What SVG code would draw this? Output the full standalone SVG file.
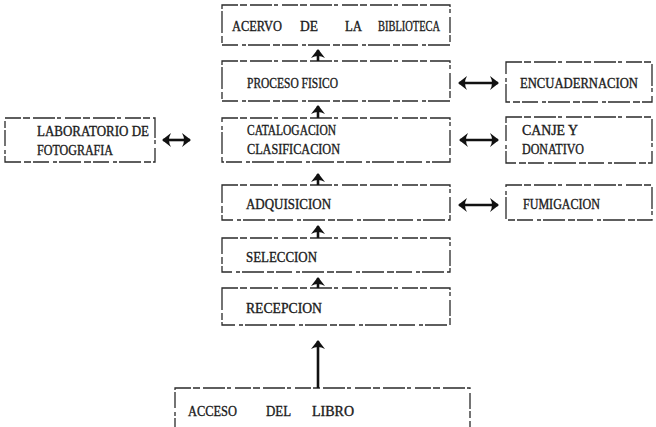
<svg xmlns="http://www.w3.org/2000/svg" width="656" height="427" viewBox="0 0 656 427">
<defs>
<marker id="ah" viewBox="0 0 9 14" refX="8" refY="7" markerWidth="9" markerHeight="14" orient="auto-start-reverse" markerUnits="userSpaceOnUse">
<path d="M0,0 Q4,7 0,14 L9,7 Z" fill="#111"/>
</marker>
<style>
.box{fill:none;stroke:#2a2a2a;stroke-width:1.3;stroke-dasharray:16 2 7 3 22 2 4 4}
.t{font-family:"Liberation Serif","DejaVu Serif",serif;font-size:14px;fill:#1a1a1a;stroke:#1a1a1a;stroke-width:0.35}
.c{fill:none;stroke:#111;stroke-width:2.6}
</style>
</defs>
<rect width="656" height="427" fill="#fff"/>
<g id="n-acervo"><rect class="box" x="222" y="5" width="228" height="40"/>
<text class="t" x="232" y="31" textLength="50" lengthAdjust="spacingAndGlyphs">ACERVO</text>
<text class="t" x="300" y="31" textLength="18" lengthAdjust="spacingAndGlyphs">DE</text>
<text class="t" x="345" y="31" textLength="17" lengthAdjust="spacingAndGlyphs">LA</text>
<text class="t" x="378" y="31" textLength="62" lengthAdjust="spacingAndGlyphs">BIBLIOTECA</text></g>
<g id="n-proceso"><rect class="box" x="222" y="61" width="228" height="40"/>
<text class="t" x="247" y="88" textLength="91" lengthAdjust="spacingAndGlyphs">PROCESO FISICO</text></g>
<g id="n-encuadernacion"><rect class="box" x="506" y="62" width="146" height="40"/>
<text class="t" x="520" y="88" textLength="118" lengthAdjust="spacingAndGlyphs">ENCUADERNACION</text></g>
<g id="n-laboratorio"><rect class="box" x="5" y="118" width="150" height="44"/>
<text class="t" x="37" y="136" textLength="112" lengthAdjust="spacingAndGlyphs">LABORATORIO DE</text>
<text class="t" x="37" y="155" textLength="76" lengthAdjust="spacingAndGlyphs">FOTOGRAFIA</text></g>
<g id="n-catalogacion"><rect class="box" x="222" y="118" width="228" height="44"/>
<text class="t" x="247" y="135" textLength="89" lengthAdjust="spacingAndGlyphs">CATALOGACION</text>
<text class="t" x="247" y="154" textLength="93" lengthAdjust="spacingAndGlyphs">CLASIFICACION</text></g>
<g id="n-canje"><rect class="box" x="506" y="117" width="146" height="46"/>
<text class="t" x="522" y="135" textLength="56" lengthAdjust="spacingAndGlyphs">CANJE Y</text>
<text class="t" x="522" y="154" textLength="62" lengthAdjust="spacingAndGlyphs">DONATIVO</text></g>
<g id="n-adquisicion"><rect class="box" x="222" y="185" width="228" height="35"/>
<text class="t" x="246" y="209" textLength="85" lengthAdjust="spacingAndGlyphs">ADQUISICION</text></g>
<g id="n-fumigacion"><rect class="box" x="506" y="185" width="146" height="35"/>
<text class="t" x="523" y="209" textLength="77" lengthAdjust="spacingAndGlyphs">FUMIGACION</text></g>
<g id="n-seleccion"><rect class="box" x="222" y="238" width="228" height="34"/>
<text class="t" x="246" y="262" textLength="71" lengthAdjust="spacingAndGlyphs">SELECCION</text></g>
<g id="n-recepcion"><rect class="box" x="222" y="288" width="228" height="37"/>
<text class="t" x="246" y="313" textLength="76" lengthAdjust="spacingAndGlyphs">RECEPCION</text></g>
<g id="n-acceso"><rect class="box" x="175" y="388" width="295" height="45"/>
<text class="t" x="188" y="416" textLength="49" lengthAdjust="spacingAndGlyphs">ACCESO</text>
<text class="t" x="266" y="416" textLength="25" lengthAdjust="spacingAndGlyphs">DEL</text>
<text class="t" x="312" y="416" textLength="42" lengthAdjust="spacingAndGlyphs">LIBRO</text></g>
<g id="connectors">
<line class="c" x1="318" y1="61" x2="318" y2="50" marker-end="url(#ah)"/>
<line class="c" x1="318" y1="118" x2="318" y2="106" marker-end="url(#ah)"/>
<line class="c" x1="318" y1="185" x2="318" y2="174" marker-end="url(#ah)"/>
<line class="c" x1="318" y1="238" x2="318" y2="226" marker-end="url(#ah)"/>
<line class="c" x1="318" y1="288" x2="318" y2="278" marker-end="url(#ah)"/>
<line class="c" x1="318" y1="388" x2="318" y2="341" marker-end="url(#ah)"/>
<line class="c" x1="459" y1="83" x2="498" y2="83" marker-start="url(#ah)" marker-end="url(#ah)"/>
<line class="c" x1="163" y1="140" x2="190" y2="140" marker-start="url(#ah)" marker-end="url(#ah)"/>
<line class="c" x1="460" y1="140" x2="498" y2="140" marker-start="url(#ah)" marker-end="url(#ah)"/>
<line class="c" x1="459" y1="205" x2="498" y2="205" marker-start="url(#ah)" marker-end="url(#ah)"/>
</g>
</svg>
